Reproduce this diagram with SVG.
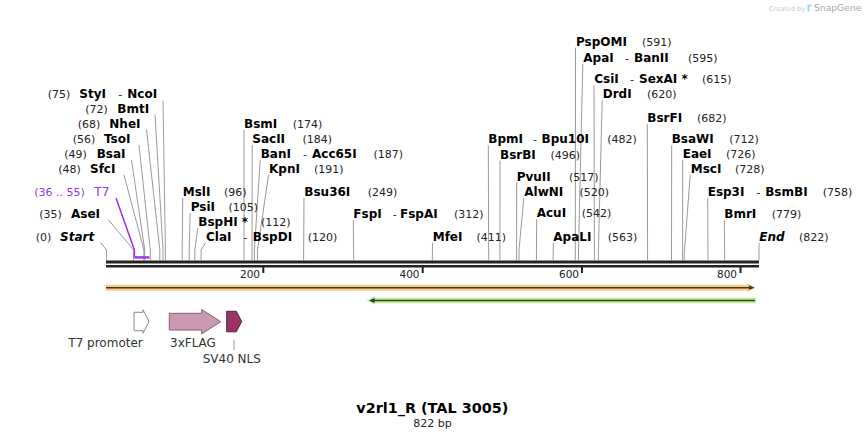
<svg xmlns="http://www.w3.org/2000/svg" width="866" height="440" viewBox="0 0 866 440">
<style>
  text { font-family: "DejaVu Sans", Verdana, sans-serif; }
  .n { font-size: 12px; font-weight: bold; fill: #000; }
  .ni { font-size: 12px; font-weight: bold; font-style: italic; fill: #000; }
  .p { font-size: 11px; fill: #222; }
  .d { font-size: 11px; fill: #222; }
  .pu { fill: #9933ee; }
  .ln { fill: none; stroke: #9a9a9a; stroke-width: 1; }
  .lnp { fill: none; stroke: #9933ee; stroke-width: 1.5; }
  .tk { font-size: 10.5px; fill: #222; text-anchor: end; }
  .fl { font-size: 12px; fill: #333; }
  .bb { fill: #222; }
</style>
<rect width="866" height="440" fill="#fff"/>

<g id="watermark">
  <text x="769" y="10.5" style="font-size:6.6px;fill:#c8c8c8">Created by</text>
  <path d="M807.5,4.5 h4 v2 h-2 v5 h-2 z" fill="#a9d6f2"/>
  <text x="814" y="10.8" style="font-size:9.2px;fill:#a8a8a8">SnapGene</text>
</g>

<g id="connectors">
  <polyline class="ln" points="163,100.5 165.4,250 165.4,260.5"/>
  <polyline class="ln" points="155,114.5 163,250 163,260.5"/>
  <polyline class="ln" points="146.5,129.5 159.8,250 159.8,260.5"/>
  <polyline class="ln" points="139,145 150.3,250 150.3,260.5"/>
  <polyline class="ln" points="131.5,160 144.7,250 144.7,260.5"/>
  <polyline class="ln" points="124,175 143.9,250 143.9,260.5"/>
  <polyline class="ln" points="108.5,220 133.6,250 133.6,260.5"/>
  <polyline class="ln" points="100.5,242.5 106.6,250 106.6,260.5"/>
  <polyline class="ln" points="182.7,198 182.2,250 182.2,260.5"/>
  <polyline class="ln" points="190.2,213 189.2,250 189.2,260.5"/>
  <polyline class="ln" points="197.8,228 194.8,250 194.8,260.5"/>
  <polyline class="ln" points="205.5,243 201.1,250 201.1,260.5"/>
  <polyline class="ln" points="244,130 244,260.5"/>
  <polyline class="ln" points="252.2,145 252,260.5"/>
  <polyline class="ln" points="260.2,160 254.4,250 254.4,260.5"/>
  <polyline class="ln" points="268.5,175 257.5,250 257.5,260.5"/>
  <polyline class="ln" points="304,198 303.6,260.5"/>
  <polyline class="ln" points="353.3,220 353.7,260.5"/>
  <polyline class="ln" points="432.5,243 432.3,260.5"/>
  <polyline class="ln" points="575.5,47.7 575.3,260.5"/>
  <polyline class="ln" points="582.8,63.7 578.5,250 578.5,260.5"/>
  <polyline class="ln" points="594,85.3 594.4,260.5"/>
  <polyline class="ln" points="602.2,100.3 598.4,250 598.4,260.5"/>
  <polyline class="ln" points="647.3,123.7 647.6,260.5"/>
  <polyline class="ln" points="488.3,145.3 488.7,260.5"/>
  <polyline class="ln" points="671.7,145.3 671.5,260.5"/>
  <polyline class="ln" points="500,160.7 499.9,260.5"/>
  <polyline class="ln" points="682.7,160.3 682.6,260.5"/>
  <polyline class="ln" points="690.2,175.3 684.2,255 684.2,260.5"/>
  <polyline class="ln" points="516.7,182.7 516.6,260.5"/>
  <polyline class="ln" points="523.8,198 519,250 519,260.5"/>
  <polyline class="ln" points="707.7,197.7 708,260.5"/>
  <polyline class="ln" points="536.7,219.3 536.4,260.5"/>
  <polyline class="ln" points="724.3,220.3 724.7,260.5"/>
  <polyline class="ln" points="553.3,242.7 553.1,260.5"/>
  <polyline class="ln" points="759,242.7 759,260.5"/>
  <polyline class="lnp" points="116,198 134.4,250 134.4,257"/>
  <line class="ln" x1="234" y1="340" x2="234" y2="350"/>
</g>

<g id="backbone">
  <rect class="bb" x="106" y="260.5" width="653" height="3"/>
  <rect class="bb" x="106" y="265" width="653" height="2.5"/>
  <rect class="bb" x="262.3" y="267" width="2" height="6"/>
  <rect class="bb" x="421.7" y="267" width="2" height="6"/>
  <rect class="bb" x="581" y="267" width="2" height="6"/>
  <rect class="bb" x="739.5" y="267" width="2" height="6"/>
  <text class="tk" x="260" y="277.5">200</text>
  <text class="tk" x="419.5" y="277.5">400</text>
  <text class="tk" x="579" y="277.5">600</text>
  <text class="tk" x="737" y="277.5">800</text>
</g>

<g id="feature-T7">
  <rect x="134.4" y="256.2" width="15.1" height="2.4" fill="#9933ee"/>
  <text class="d pu" x="34.3" y="196.3">(36 .. 55)</text>
  <text class="pu" x="94.3" y="196.3" style="font-size:12px">T7</text>
</g>

<g id="site-StyI-NcoI"><text class="p" x="47.7" y="98.3">(75)</text><text class="n" x="79.3" y="98.3">StyI</text><text class="d" x="118.3" y="98.3">-</text><text class="n" x="127.3" y="98.3">NcoI</text></g>
<g id="site-BmtI"><text class="p" x="85.3" y="112.7">(72)</text><text class="n" x="117.3" y="112.7">BmtI</text></g>
<g id="site-NheI"><text class="p" x="77.7" y="127.7">(68)</text><text class="n" x="109.3" y="127.7">NheI</text></g>
<g id="site-TsoI"><text class="p" x="72.7" y="143">(56)</text><text class="n" x="104" y="143">TsoI</text></g>
<g id="site-BsaI"><text class="p" x="64.3" y="157.7">(49)</text><text class="n" x="96.7" y="157.7">BsaI</text></g>
<g id="site-SfcI"><text class="p" x="58.3" y="173">(48)</text><text class="n" x="90" y="173">SfcI</text></g>
<g id="site-AseI"><text class="p" x="39.3" y="218.3">(35)</text><text class="n" x="71" y="218.3">AseI</text></g>
<g id="site-Start"><text class="p" x="35.7" y="240.7">(0)</text><text class="ni" x="60" y="240.7">Start</text></g>

<g id="site-MslI"><text class="n" x="182.7" y="196">MslI</text><text class="p" x="224" y="196">(96)</text></g>
<g id="site-PsiI"><text class="n" x="190.7" y="211">PsiI</text><text class="p" x="228.5" y="211">(105)</text></g>
<g id="site-BspHI"><text class="n" x="198.3" y="226">BspHI *</text><text class="p" x="261" y="226">(112)</text></g>
<g id="site-ClaI-BspDI"><text class="n" x="206" y="241">ClaI</text><text class="d" x="243.5" y="241">-</text><text class="n" x="252.8" y="241">BspDI</text><text class="p" x="307.7" y="241">(120)</text></g>
<g id="site-BsmI"><text class="n" x="244" y="128.3">BsmI</text><text class="p" x="292.7" y="128.3">(174)</text></g>
<g id="site-SacII"><text class="n" x="252.3" y="143.3">SacII</text><text class="p" x="302.5" y="143.3">(184)</text></g>
<g id="site-BanI-Acc65I"><text class="n" x="260.7" y="158.3">BanI</text><text class="d" x="303" y="158.3">-</text><text class="n" x="312" y="158.3">Acc65I</text><text class="p" x="373.5" y="158.3">(187)</text></g>
<g id="site-KpnI"><text class="n" x="269" y="173.3">KpnI</text><text class="p" x="314" y="173.3">(191)</text></g>
<g id="site-Bsu36I"><text class="n" x="304.3" y="196">Bsu36I</text><text class="p" x="367.7" y="196">(249)</text></g>
<g id="site-FspI-FspAI"><text class="n" x="353.3" y="218.3">FspI</text><text class="d" x="392.7" y="218.3">-</text><text class="n" x="400" y="218.3">FspAI</text><text class="p" x="454" y="218.3">(312)</text></g>
<g id="site-MfeI"><text class="n" x="432.7" y="241">MfeI</text><text class="p" x="476.5" y="241">(411)</text></g>

<g id="site-PspOMI"><text class="n" x="576" y="45.7">PspOMI</text><text class="p" x="642" y="45.7">(591)</text></g>
<g id="site-ApaI-BanII"><text class="n" x="583.3" y="61.7">ApaI</text><text class="d" x="625" y="61.7">-</text><text class="n" x="634" y="61.7">BanII</text><text class="p" x="688" y="61.7">(595)</text></g>
<g id="site-CsiI-SexAI"><text class="n" x="594.3" y="83.3">CsiI</text><text class="d" x="630" y="83.3">-</text><text class="n" x="639" y="83.3">SexAI *</text><text class="p" x="702" y="83.3">(615)</text></g>
<g id="site-DrdI"><text class="n" x="602.7" y="98.3">DrdI</text><text class="p" x="647" y="98.3">(620)</text></g>
<g id="site-BsrFI"><text class="n" x="647.3" y="121.7">BsrFI</text><text class="p" x="697" y="121.7">(682)</text></g>
<g id="site-BpmI-Bpu10I"><text class="n" x="488.3" y="143.3">BpmI</text><text class="d" x="533" y="143.3">-</text><text class="n" x="541.5" y="143.3">Bpu10I</text><text class="p" x="607.3" y="143.3">(482)</text></g>
<g id="site-BsaWI"><text class="n" x="671.7" y="143.3">BsaWI</text><text class="p" x="729.3" y="143.3">(712)</text></g>
<g id="site-BsrBI"><text class="n" x="500" y="158.7">BsrBI</text><text class="p" x="550.5" y="158.7">(496)</text></g>
<g id="site-EaeI"><text class="n" x="682.7" y="158.3">EaeI</text><text class="p" x="726" y="158.3">(726)</text></g>
<g id="site-MscI"><text class="n" x="690.7" y="173.3">MscI</text><text class="p" x="735" y="173.3">(728)</text></g>
<g id="site-PvuII"><text class="n" x="516.7" y="180.7">PvuII</text><text class="p" x="569" y="180.7">(517)</text></g>
<g id="site-AlwNI"><text class="n" x="524.3" y="196">AlwNI</text><text class="p" x="579.5" y="196">(520)</text></g>
<g id="site-Esp3I-BsmBI"><text class="n" x="707.7" y="195.7">Esp3I</text><text class="d" x="756.4" y="195.7">-</text><text class="n" x="765.2" y="195.7">BsmBI</text><text class="p" x="822.7" y="195.7">(758)</text></g>
<g id="site-AcuI"><text class="n" x="536.7" y="217.3">AcuI</text><text class="p" x="581.7" y="217.3">(542)</text></g>
<g id="site-BmrI"><text class="n" x="724.3" y="218.3">BmrI</text><text class="p" x="771.7" y="218.3">(779)</text></g>
<g id="site-ApaLI"><text class="n" x="553.3" y="240.7">ApaLI</text><text class="p" x="607.7" y="240.7">(563)</text></g>
<g id="site-End"><text class="ni" x="759.3" y="240.7">End</text><text class="p" x="799" y="240.7">(822)</text></g>

<g id="primer-forward">
  <path d="M106,284.7 H747 V283.3 L755.5,287.7 L747,292.1 V290.7 H106 Z" fill="#fbca7c"/>
  <line x1="106" y1="287.7" x2="750" y2="287.7" stroke="#3a3a3a" stroke-width="1.6"/>
  <path d="M749,285.3 L754.5,287.7 L749,290.1 Z" fill="#3a3a3a"/>
</g>

<g id="primer-reverse">
  <path d="M756,297.8 H375 V296.3 L366.5,300.5 L375,304.7 V303.3 H756 Z" fill="#b9f28f"/>
  <line x1="372" y1="300.5" x2="755" y2="300.5" stroke="#3a3a3a" stroke-width="1.6"/>
  <path d="M374.5,298.1 L369,300.5 L374.5,302.9 Z" fill="#3a3a3a"/>
</g>

<g id="feature-T7-promoter">
  <path d="M134,312.3 H143 V309.8 L149,321.5 L143,333.2 V330.7 H134 Z" fill="#fff" stroke="#8a8a8a" stroke-width="1"/>
  <text class="fl" x="68.3" y="346.7">T7 promoter</text>
</g>
<g id="feature-3xFLAG">
  <path d="M169.3,313.3 H201.7 V309.5 L220.7,321.7 L201.7,333.9 V330 H169.3 Z" fill="#cc99b3" stroke="#8a5c75" stroke-width="1"/>
  <text class="fl" x="170" y="346.7">3xFLAG</text>
</g>
<g id="feature-SV40-NLS">
  <path d="M226.7,311.3 H236.3 L241.7,321.5 L236.3,331.8 H226.7 Z" fill="#993366" stroke="#5a1e3c" stroke-width="1"/>
  <text class="fl" x="202.7" y="362.7">SV40 NLS</text>
</g>

<g id="title">
  <text x="432.3" y="413.3" text-anchor="middle" style="font-size:14.4px;font-weight:bold;fill:#000">v2rl1_R (TAL 3005)</text>
  <text x="432.5" y="427" text-anchor="middle" style="font-size:11px;fill:#222">822 bp</text>
</g>
</svg>
